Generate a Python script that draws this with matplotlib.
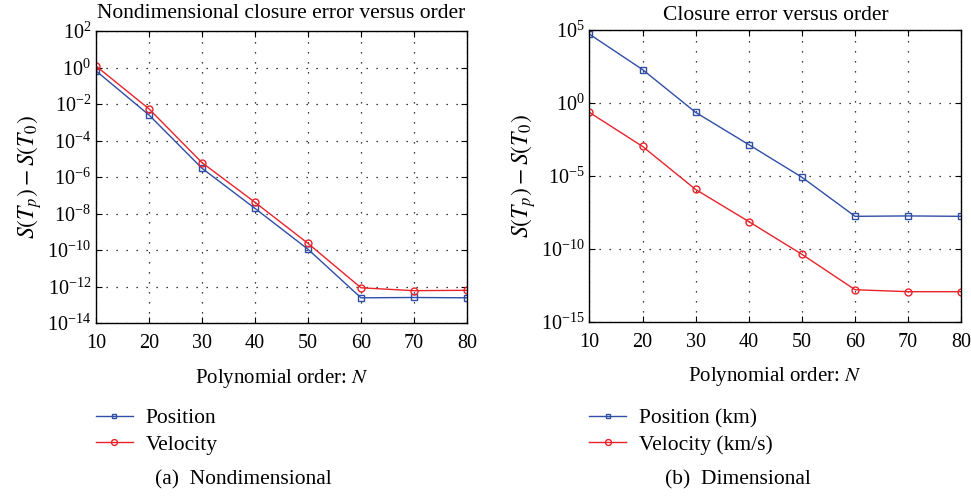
import numpy as np
import matplotlib
matplotlib.use("Agg")
import matplotlib.pyplot as plt

plt.rcParams['font.family'] = ['Liberation Serif', 'DejaVu Serif']
plt.rcParams['mathtext.fontset'] = 'stix'
plt.rcParams['font.size'] = 14.5

# polynomial order
order = [10, 20, 30, 40, 50, 60, 70, 80]

# nondimensional closure error
pos_nd = [6.5e-1, 2.5e-3, 3.0e-6, 1.9e-8, 1.1e-10, 2.4e-13, 2.5e-13, 2.4e-13]
vel_nd = [1.2e0, 5.4e-3, 6.1e-6, 4.1e-8, 2.3e-10, 8.5e-13, 5.9e-13, 6.2e-13]

# dimensional closure error
pos_d = [4.8e4, 1.8e2, 2.1e-1, 1.3e-3, 7.6e-6, 1.6e-8, 1.7e-8, 1.6e-8]
vel_d = [2.1e-1, 9.8e-4, 1.1e-6, 7.0e-9, 4.0e-11, 1.5e-13, 1.1e-13, 1.1e-13]

blue = '#2f4ea6'
red = '#ea2229'

fig = plt.figure(figsize=(9.71, 5.0), dpi=100)
ax1 = fig.add_axes([0.0989, 0.354, 0.382, 0.584])
ax2 = fig.add_axes([0.607, 0.357, 0.383, 0.584])


def style(ax, yticks, ylim):
    ax.set_yscale('log')
    ax.set_xlim(10, 80)
    ax.set_ylim(*ylim)
    ax.set_xticks(order)
    ax.set_yticks(yticks)
    ax.yaxis.set_minor_locator(matplotlib.ticker.NullLocator())
    ax.tick_params(direction='in', top=True, right=True, length=4, width=0.8)
    ax.tick_params(axis='x', pad=8)
    ax.grid(True, linestyle=(0, (1, 7)), color='black', linewidth=0.9)
    for s in ax.spines.values():
        s.set_linewidth(1.0)
    ax.set_xlabel('Polynomial order: $N$', labelpad=10, fontsize=15)
    ax.set_ylabel('$S(T_p) - S(T_0)$', labelpad=2, fontsize=17)


ax1.plot(order, pos_nd, color=blue, lw=1, marker='s', ms=3.8, mfc='none', mew=1, label='Position')
ax1.plot(order, vel_nd, color=red, lw=1, marker='o', ms=5, mfc='none', mew=1, label='Velocity')
style(ax1, [10.0**k for k in range(-14, 3, 2)], (1e-14, 1e2))
ax1.set_title('Nondimensional closure error versus order', fontsize=15.5, pad=9)

ax2.plot(order, pos_d, color=blue, lw=1, marker='s', ms=3.8, mfc='none', mew=1, label='Position (km)')
ax2.plot(order, vel_d, color=red, lw=1, marker='o', ms=5, mfc='none', mew=1, label='Velocity (km/s)')
style(ax2, [10.0**k for k in range(-15, 6, 5)], (1e-15, 1e5))
ax2.set_title('Closure error versus order', fontsize=15.5, pad=7)

for ax, x0 in ((ax1, 0.0989), (ax2, 0.607)):
    ax.legend(loc='upper left', bbox_to_anchor=(x0, 0.184), bbox_transform=fig.transFigure,
              frameon=False, handlelength=1.7, handletextpad=0.6, labelspacing=0.3,
              fontsize=15.5, borderaxespad=0, borderpad=0, markerscale=0.85)

fig.text(0.251, 0.04, '(a)  Nondimensional', ha='center', va='center', fontsize=15.5)
fig.text(0.760, 0.04, '(b)  Dimensional', ha='center', va='center', fontsize=15.5)

fig.savefig('out.png', dpi=100)
